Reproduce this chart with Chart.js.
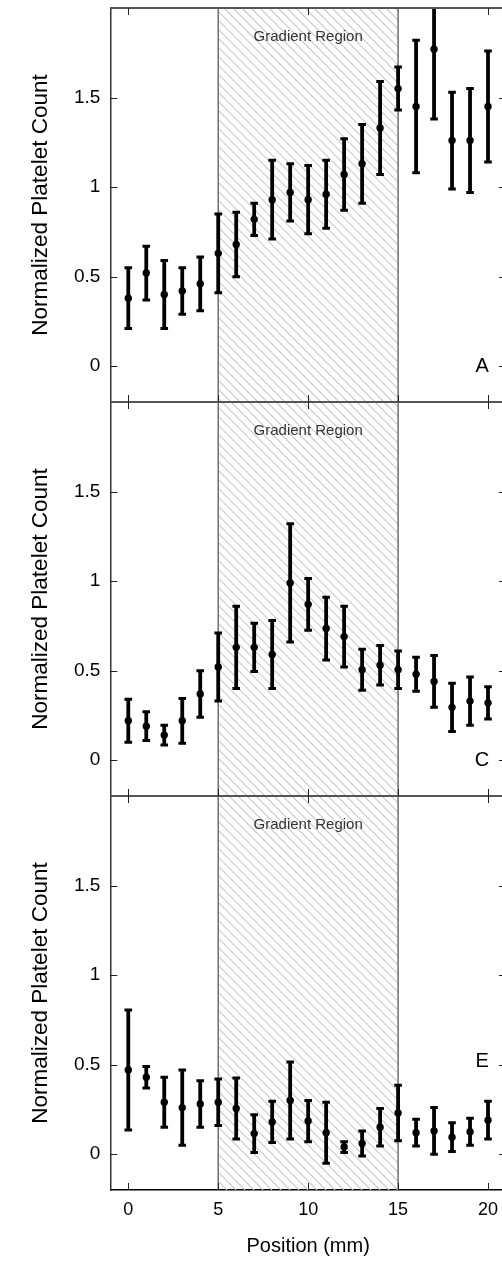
<!DOCTYPE html>
<html>
<head>
<meta charset="utf-8">
<script src="https://cdn.jsdelivr.net/npm/chart.js@4.4.1/dist/chart.umd.min.js"></script>
<style>
  html, body { margin: 0; padding: 0; background: #fff; overflow: hidden; }
  #wrap { position: relative; width: 510px; height: 1267px; }
  canvas { position: absolute; left: 0; }
</style>
</head>
<body>
<div id="wrap">
  <canvas id="panelA" width="510" height="402" style="top:0px"></canvas>
  <canvas id="panelC" width="510" height="394" style="top:402px"></canvas>
  <canvas id="panelE" width="510" height="471" style="top:796px"></canvas>
</div>
<script>
// positions along the channel (mm)
const positions = [0,1,2,3,4,5,6,7,8,9,10,11,12,13,14,15,16,17,18,19,20];

// panel A
const meanA = [0.38,0.52,0.40,0.42,0.46,0.63,0.68,0.82,0.93,0.97,0.93,0.96,1.07,1.13,1.33,1.55,1.45,1.77,1.26,1.26,1.45];
const errA  = [0.17,0.15,0.19,0.13,0.15,0.22,0.18,0.09,0.22,0.16,0.19,0.19,0.20,0.22,0.26,0.12,0.37,0.39,0.27,0.29,0.31];

// panel C
const meanC = [0.22,0.19,0.14,0.22,0.37,0.52,0.63,0.63,0.59,0.99,0.87,0.735,0.69,0.505,0.53,0.505,0.48,0.44,0.295,0.33,0.32];
const errC  = [0.12,0.08,0.055,0.125,0.13,0.19,0.23,0.135,0.19,0.33,0.145,0.175,0.17,0.115,0.11,0.105,0.095,0.145,0.135,0.135,0.09];

// panel E
const meanE = [0.47,0.43,0.29,0.26,0.28,0.29,0.255,0.115,0.18,0.30,0.185,0.12,0.04,0.06,0.15,0.23,0.12,0.13,0.095,0.125,0.19];
const errE  = [0.335,0.06,0.14,0.21,0.13,0.13,0.17,0.105,0.115,0.215,0.115,0.17,0.03,0.07,0.105,0.155,0.075,0.13,0.08,0.075,0.105];

const yTicks = [0, 0.5, 1, 1.5];
const xTicks = [0, 5, 10, 15, 20];
const xFrameTicks = [0, 10, 20];
const gradStart = 5, gradEnd = 15;
const gradLabel = 'Gradient Region';

Chart.defaults.font.family = "'Liberation Sans', Arial, sans-serif";
Chart.defaults.color = '#000';

// hatched gradient band, divider lines, inward ticks, panel letter
const framePlugin = {
	id: 'frame',
	beforeDatasetsDraw(chart, args, o) {
		const ctx = chart.ctx, a = chart.chartArea;
		const x = chart.scales.x;
		const x5 = x.getPixelForValue(gradStart), x15 = x.getPixelForValue(gradEnd);
		ctx.save();
		ctx.beginPath();
		ctx.rect(x5, a.top, x15 - x5, a.bottom - a.top);
		ctx.clip();
		ctx.strokeStyle = '#c9c9c9';
		ctx.lineWidth = 1.1;
		ctx.beginPath();
		const top = a.top + o.pageTop, bot = a.bottom + o.pageTop;
		for (let k = Math.floor((x5 - bot) / 9) * 9; k < x15 - top + 9; k += 9) {
			ctx.moveTo(k + top, a.top);
			ctx.lineTo(k + bot, a.bottom);
		}
		ctx.stroke();
		ctx.restore();

		ctx.save();
		ctx.strokeStyle = '#707070';
		ctx.lineWidth = 1.5;
		ctx.beginPath();
		ctx.moveTo(x5, a.top); ctx.lineTo(x5, a.bottom);
		ctx.moveTo(x15, a.top); ctx.lineTo(x15, a.bottom);
		ctx.stroke();
		ctx.fillStyle = '#333';
		ctx.font = "15px 'Liberation Sans', Arial, sans-serif";
		ctx.textAlign = 'center';
		ctx.textBaseline = 'middle';
		ctx.fillText(gradLabel, x.getPixelForValue((gradStart + gradEnd) / 2), a.top + 29);
		ctx.restore();
	},
	afterDraw(chart, args, o) {
		const ctx = chart.ctx, a = chart.chartArea;
		const x = chart.scales.x, y = chart.scales.y;
		ctx.save();
		ctx.strokeStyle = '#555';
		ctx.lineWidth = 2;
		ctx.beginPath();
		ctx.moveTo(a.left, a.top); ctx.lineTo(a.right, a.top);
		if (o.bottomLine) { ctx.moveTo(a.left, a.bottom); ctx.lineTo(a.right, a.bottom); }
		ctx.stroke();

		ctx.strokeStyle = '#222';
		ctx.lineWidth = 1;
		ctx.beginPath();
		yTicks.forEach(v => {
			const py = Math.round(y.getPixelForValue(v)) + 0.5;
			ctx.moveTo(a.left, py); ctx.lineTo(a.left + 7, py);
			ctx.moveTo(a.right - 7, py); ctx.lineTo(a.right, py);
		});
		xFrameTicks.forEach(v => {
			const px = Math.round(x.getPixelForValue(v)) + 0.5;
			ctx.moveTo(px, a.top); ctx.lineTo(px, a.top + 7);
		});
		o.bottomTicks.forEach(v => {
			const px = Math.round(x.getPixelForValue(v)) + 0.5;
			ctx.moveTo(px, a.bottom - 7); ctx.lineTo(px, a.bottom);
		});
		ctx.stroke();

		ctx.fillStyle = '#000';
		ctx.font = "20px 'Liberation Sans', Arial, sans-serif";
		ctx.textAlign = 'center';
		ctx.textBaseline = 'middle';
		ctx.fillText(o.letter, x.getPixelForValue(19.67), y.getPixelForValue(o.letterY));
		ctx.restore();
	}
};

function errorData(mean, err) {
	const pts = [];
	positions.forEach((p, i) => {
		pts.push({x: p, y: mean[i] - err[i]});
		pts.push({x: p, y: mean[i] + err[i]});
		pts.push({x: p, y: null});
	});
	return pts;
}

function makePanel(id, mean, err, opts) {
	const showX = opts.showX;
	const config = {
		type: 'scatter',
		data: {
			datasets: [{
				type: 'scatter',
				data: positions.map((p, i) => ({x: p, y: mean[i]})),
				pointRadius: 3.7,
				pointBackgroundColor: '#000',
				pointBorderWidth: 0,
				pointHoverRadius: 3.7
			}, {
				type: 'line',
				data: errorData(mean, err),
				showLine: true,
				spanGaps: false,
				borderColor: '#000',
				borderWidth: 3.8,
				pointStyle: 'line',
				pointRadius: 3.8,
				pointHoverRadius: 3.8,
				pointBorderWidth: 3,
				pointBorderColor: '#000'
			}]
		},
		plugins: [framePlugin],
		options: {
			responsive: false,
			animation: false,
			events: [],
			layout: { autoPadding: false, padding: { top: opts.padTop, right: 4, bottom: 0, left: 0 } },
			scales: {
				x: {
					type: 'linear',
					display: showX,
					min: -1,
					max: 21,
					offset: false,
					afterBuildTicks: s => { s.ticks = xTicks.map(v => ({value: v})); },
					afterFit: s => { s.height = showX ? 77 : 0; s.paddingLeft = 0; s.paddingRight = 0; },
					grid: { display: false, drawTicks: false },
					border: { display: true, color: '#000', width: 1.5 },
					ticks: { padding: 9, color: '#000', font: { size: 18 } },
					title: {
						display: true,
						text: 'Position (mm)',
						color: '#000',
						font: { size: 20 },
						padding: { top: 0, bottom: 9 }
					}
				},
				y: {
					type: 'linear',
					min: -0.2,
					max: 2.0,
					afterBuildTicks: s => { s.ticks = yTicks.map(v => ({value: v})); },
					afterFit: s => { s.width = 110.3; s.paddingTop = 0; s.paddingBottom = 0; },
					grid: { display: false, drawTicks: false },
					border: { display: true, color: '#333', width: 1.5 },
					ticks: { padding: 10, color: '#000', font: { size: 19 }, callback: v => String(v) },
					title: {
						display: true,
						text: 'Normalized Platelet Count',
						color: '#000',
						font: { size: 22.5 },
						padding: { top: 27, bottom: 0 }
					}
				}
			},
			plugins: {
				legend: { display: false },
				tooltip: { enabled: false },
				frame: {
					pageTop: opts.pageTop,
					letter: opts.letter,
					letterY: opts.letterY,
					bottomLine: !showX,
					bottomTicks: xTicks
				}
			}
		}
	};
	return new Chart(document.getElementById(id), config);
}

makePanel('panelA', meanA, errA, { showX: false, padTop: 8, pageTop: 0, letter: 'A', letterY: 0 });
makePanel('panelC', meanC, errC, { showX: false, padTop: 0, pageTop: 402, letter: 'C', letterY: 0 });
makePanel('panelE', meanE, errE, { showX: true, padTop: 0, pageTop: 796, letter: 'E', letterY: 0.52 });
</script>
</body>
</html>
